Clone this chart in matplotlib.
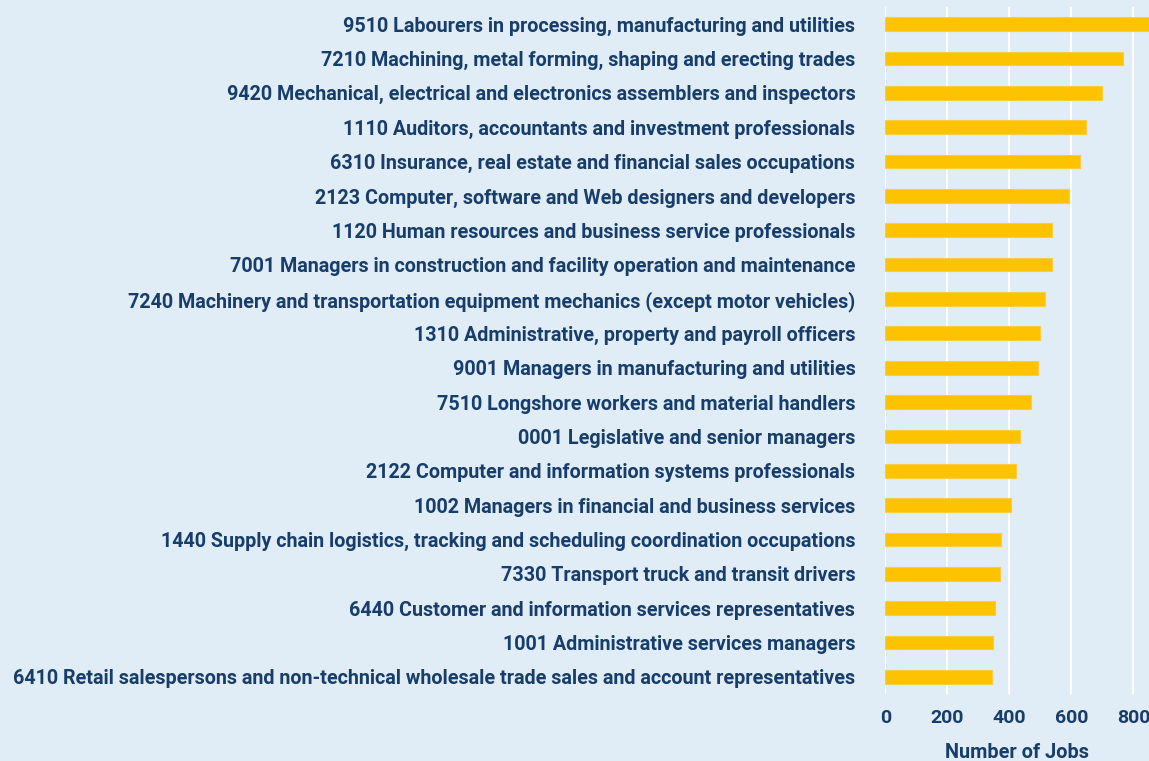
import matplotlib.pyplot as plt

occupations = [
    "9510 Labourers in processing, manufacturing and utilities",
    "7210 Machining, metal forming, shaping and erecting trades",
    "9420 Mechanical, electrical and electronics assemblers and inspectors",
    "1110 Auditors, accountants and investment professionals",
    "6310 Insurance, real estate and financial sales occupations",
    "2123 Computer, software and Web designers and developers",
    "1120 Human resources and business service professionals",
    "7001 Managers in construction and facility operation and maintenance",
    "7240 Machinery and transportation equipment mechanics (except motor vehicles)",
    "1310 Administrative, property and payroll officers",
    "9001 Managers in manufacturing and utilities",
    "7510 Longshore workers and material handlers",
    "0001 Legislative and senior managers",
    "2122 Computer and information systems professionals",
    "1002 Managers in financial and business services",
    "1440 Supply chain logistics, tracking and scheduling coordination occupations",
    "7330 Transport truck and transit drivers",
    "6440 Customer and information services representatives",
    "1001 Administrative services managers",
    "6410 Retail salespersons and non-technical wholesale trade sales and account representatives",
]
jobs = [880, 766, 700, 647, 629, 593, 538, 538, 515, 499, 493, 471, 434, 421, 404, 373, 369, 352, 347, 345]
ticks = [0, 200, 400, 600, 800]

bg = '#e0ecf6'
navy = '#173d6b'
plt.rcParams['font.family'] = ['Roboto', 'DejaVu Sans']

fig = plt.figure(figsize=(11.49, 7.61), dpi=100, facecolor=bg)
ax = fig.add_axes([885.3 / 1149, 1 - 694 / 761, (1149 - 885.3) / 1149, 687 / 761])
ax.set_facecolor(bg)

ypos = list(range(len(occupations)))
ax.barh(ypos, jobs, height=0.4, color='#fdc300', edgecolor='#f7cd45', linewidth=0.8, zorder=3)

ax.set_xlim(0, 850)
ax.set_ylim(len(occupations) - 0.5, -0.5)
ax.set_xticks(ticks)
ax.set_yticks(ypos)
ax.set_yticklabels(occupations)
ax.grid(axis='x', color='white', linewidth=1.5, zorder=0)
ax.axvline(0, color='white', linewidth=1.5, zorder=1)
for s in ax.spines.values():
    s.set_visible(False)
ax.tick_params(axis='y', length=0, pad=21.6, labelsize=14.2, labelcolor=navy)
ax.tick_params(axis='x', length=0, pad=11, labelsize=14, labelcolor=navy)
for lab in ax.get_yticklabels() + ax.get_xticklabels():
    lab.set_fontweight('bold')
for lab in ax.get_yticklabels():
    lab.set_y(lab.get_position()[1])
ax.set_xlabel("Number of Jobs", fontsize=14.3, fontweight='bold', color=navy, labelpad=11)

fig.savefig('out.png', dpi=100, facecolor=bg)
